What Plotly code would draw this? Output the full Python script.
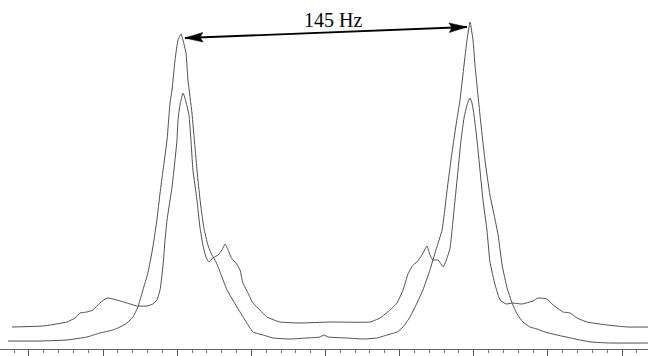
import numpy as np
import plotly.graph_objects as go

# ---- data (frequency offset in Hz, intensity in arbitrary units) ----
freq_a = [-159.3, -143.3, -129.7, -119.7, -113.2, -106.6, -103.1, -99.6, -96.6, -94.1,
          -91.6, -89.1, -86.6, -84.6, -83.0, -81.5, -79.5, -78.0, -77.0, -75.5,
          -74.0, -72.5, -71.5, -70.0, -69.0, -67.0, -65.5, -64.0, -62.5, -61.0,
          -59.0, -57.0, -54.9, -52.9, -49.4, -44.4, -40.4, -36.4, -31.4, -26.3,
          -17.8, -9.3, -2.8, -0.8, 1.3, 10.8, 18.8, 25.8, 30.9, 35.9,
          38.9, 42.4, 45.9, 48.9, 52.4, 55.4, 58.5, 61.0, 63.5, 65.5,
          67.5, 69.5, 71.0, 72.5, 74.0, 75.0, 77.5, 80.0, 82.5, 84.6,
          86.6, 88.6, 91.1, 93.6, 96.1, 99.1, 102.6, 106.1, 110.1, 116.2,
          125.2, 133.2, 142.8, 161.8]
int_a = [8, 8, 9, 12, 16, 19, 22, 26, 32, 42,
         59, 76, 102, 129, 156, 179, 209, 246, 259, 289,
         309, 315, 309, 296, 269, 236, 202, 169, 142, 121,
         104, 94, 87, 77, 59, 42, 29, 17, 14, 11,
         10, 11, 12, 14, 12, 11, 10, 11, 14, 17,
         22, 32, 46, 59, 79, 99, 119, 159, 197, 224,
         249, 284, 309, 327, 309, 284, 234, 189, 154, 134,
         114, 84, 61, 46, 35, 27, 22, 20, 17, 14,
         10, 7, 6, 6]

freq_b = [-157.3, -141.8, -129.7, -125.7, -123.2, -119.7, -116.7, -113.2, -109.6, -106.6,
          -103.1, -99.6, -94.6, -89.6, -86.6, -84.6, -83.0, -81.5, -80.5, -79.5,
          -77.0, -75.5, -74.5, -74.0, -73.0, -71.5, -70.5, -69.5, -68.5, -67.5,
          -66.5, -64.5, -63.0, -61.5, -60.0, -58.5, -56.5, -53.9, -51.9, -50.4,
          -48.9, -46.9, -44.9, -42.9, -41.4, -38.9, -36.4, -32.9, -29.4, -22.8,
          -12.8, 2.3, 22.3, 27.3, 32.4, 35.9, 38.9, 41.4, 43.9, 45.9,
          48.4, 50.9, 52.4, 53.9, 56.5, 59.0, 61.0, 62.5, 63.5, 65.0,
          66.5, 68.0, 69.5, 71.0, 72.5, 73.5, 74.5, 76.0, 77.5, 79.0,
          81.0, 82.5, 85.1, 87.6, 90.6, 93.6, 98.6, 104.1, 106.6, 111.1,
          114.2, 119.2, 122.7, 126.2, 131.2, 141.3, 151.3, 161.8]
int_b = [22, 23, 27, 31, 36, 37, 39, 46, 51, 50,
         48, 46, 43, 43, 45, 49, 59, 84, 109, 129,
         162, 189, 209, 229, 244, 256, 251, 243, 234, 209,
         179, 149, 122, 104, 92, 87, 91, 94, 99, 105,
         99, 90, 86, 79, 66, 56, 46, 39, 32, 27,
         26, 27, 27, 31, 39, 46, 59, 75, 84, 87,
         94, 103, 94, 89, 89, 82, 91, 101, 119, 149,
         179, 209, 231, 244, 251, 246, 234, 209, 179, 149,
         119, 87, 64, 49, 45, 46, 45, 48, 51, 50,
         44, 37, 36, 31, 27, 24, 22, 22]

splitting_label = "145 Hz"
x_range = [-163.3, 161.8]
y_range = [0, 349]
major_tick = 37.2
minor_tick = 7.44

fig = go.Figure()
line_style = dict(color="#505050", width=1, shape="spline", smoothing=0.4)
fig.add_trace(go.Scatter(x=freq_a, y=int_a, mode="lines", line=line_style, hoverinfo="skip"))
fig.add_trace(go.Scatter(x=freq_b, y=int_b, mode="lines", line=line_style, hoverinfo="skip"))

# ---- double-headed arrow between the two main peaks of trace A ----
fa = np.array(freq_a); ia = np.array(int_a)
left = fa < 0
li = np.argmax(np.where(left, ia, -1))
ri = np.argmax(np.where(~left, ia, -1))
tail = (fa[li] + 2.0, ia[li] - 4)
tip = (fa[ri] - 1.5, ia[ri] - 5)

W, H = 648, 356
mb = 7
kx = W / (x_range[1] - x_range[0])            # px per Hz
ky = (H - mb) / (y_range[1] - y_range[0])     # px per unit

def to_px(p):
    return np.array([p[0] * kx, p[1] * ky])

def to_data(v):
    return (v[0] / kx, v[1] / ky)

p0, p1 = to_px(tail), to_px(tip)
u = (p1 - p0) / np.linalg.norm(p1 - p0)
n = np.array([-u[1], u[0]])
L, HW, NOTCH = 18.0, 4.8, 3.0

def head_path(tp, direction):
    back = tp - L * direction
    c1 = back + HW * n
    c2 = back - HW * n
    nb = tp - (L - NOTCH) * direction
    pts = [tp, c1, nb, c2]
    pts = [to_data(p) for p in pts]
    return "M{},{} L{},{} L{},{} L{},{} Z".format(*[c for pt in pts for c in pt])

shapes = [
    dict(type="line", x0=tail[0], y0=tail[1], x1=tip[0], y1=tip[1],
         line=dict(color="black", width=1.8), xref="x", yref="y"),
    dict(type="path", path=head_path(p1, u), fillcolor="black",
         line=dict(color="black", width=0.5), xref="x", yref="y"),
    dict(type="path", path=head_path(p0, -u), fillcolor="black",
         line=dict(color="black", width=0.5), xref="x", yref="y"),
]

mid = ((tail[0] + tip[0]) / 2, (tail[1] + tip[1]) / 2)
fig.add_annotation(x=mid[0], y=mid[1], text=splitting_label, showarrow=False,
                   xanchor="center", yanchor="bottom", xshift=7, yshift=0,
                   font=dict(family="Liberation Serif", size=20, color="black"))

fig.update_layout(
    width=W, height=H,
    margin=dict(l=0, r=0, t=0, b=mb),
    paper_bgcolor="white", plot_bgcolor="white",
    showlegend=False,
    shapes=shapes,
    xaxis=dict(range=x_range, showgrid=False, zeroline=False,
               showline=True, linecolor="#666", linewidth=1,
               ticks="outside", ticklen=6, tickcolor="#555", tickwidth=1,
               tick0=0, dtick=major_tick, showticklabels=False,
               minor=dict(ticks="outside", ticklen=3, tickcolor="#777",
                          tick0=0, dtick=minor_tick, showgrid=False)),
    yaxis=dict(range=y_range, visible=False),
)

fig.write_html("out.html")
